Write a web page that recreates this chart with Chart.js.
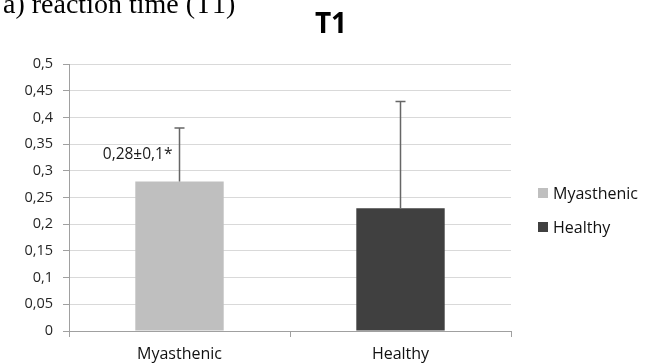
<!DOCTYPE html>
<html>
<head>
<meta charset="utf-8">
<script src="https://cdn.jsdelivr.net/npm/chart.js@4/dist/chart.umd.min.js"></script>
<style>
  html, body { margin: 0; padding: 0; background: #fff; }
  #wrap { width: 649px; height: 363px; position: relative; }
</style>
</head>
<body>
<div id="wrap"><canvas id="c" width="649" height="363"></canvas></div>
<script>
// Reaction time T1: group means with upper standard-deviation whiskers
const categories = ['Myasthenic', 'Healthy'];
const meanValues = [0.28, 0.23];
const sdValues = [0.10, 0.20];
const significant = [true, false];
const barColors = ['#bfbfbf', '#404040'];
const yTickValues = [0, 0.05, 0.1, 0.15, 0.2, 0.25, 0.3, 0.35, 0.4, 0.45, 0.5];

const chartTitle = 'T1';
const panelCaption = 'a) reaction time (T1)';

const fmt = v => String(Number(v.toFixed(2))).replace('.', ',');

// Panel caption (serif) and chart title
const headingPlugin = {
  id: 'heading',
  afterDraw(chart) {
    const ctx = chart.ctx;
    ctx.save();
    ctx.fillStyle = '#000';
    ctx.textAlign = 'left';
    ctx.textBaseline = 'alphabetic';
    ctx.font = '28px "Liberation Serif", "Times New Roman", serif';
    ctx.fillText(panelCaption, 3, 12.5);
    ctx.textAlign = 'center';
    ctx.font = 'bold 28px "Open Sans", sans-serif';
    ctx.fillText(chartTitle, 331, 33);
    ctx.restore();
  }
};

// Upper whiskers and mean±SD annotation
const errorBarPlugin = {
  id: 'errorBars',
  afterDatasetsDraw(chart) {
    const ctx = chart.ctx;
    const y = chart.scales.y;
    const meta = chart.getDatasetMeta(0);
    ctx.save();
    meta.data.forEach((el, i) => {
      const top = y.getPixelForValue(meanValues[i] + sdValues[i]);
      ctx.strokeStyle = '#666666';
      ctx.lineWidth = 1.5;
      ctx.beginPath();
      ctx.moveTo(el.x, el.y);
      ctx.lineTo(el.x, top);
      ctx.moveTo(el.x - 5, top);
      ctx.lineTo(el.x + 5, top);
      ctx.stroke();
      if (significant[i]) {
        const ly = y.getPixelForValue(meanValues[i] + sdValues[i] / 2);
        ctx.fillStyle = '#1a1a1a';
        ctx.font = '15.5px "Open Sans", sans-serif';
        ctx.textAlign = 'right';
        ctx.textBaseline = 'middle';
        ctx.fillText(fmt(meanValues[i]) + '\u00b1' + fmt(sdValues[i]) + '*', el.x - 7, ly);
      }
    });
    ctx.restore();
  }
};

// Legend listing each group with its bar colour
const sideLegendPlugin = {
  id: 'sideLegend',
  afterDraw(chart) {
    const ctx = chart.ctx;
    ctx.save();
    ctx.font = '16px "Open Sans", sans-serif';
    ctx.textAlign = 'left';
    ctx.textBaseline = 'middle';
    categories.forEach((name, i) => {
      const cy = 193 + i * 34;
      ctx.fillStyle = barColors[i];
      ctx.fillRect(538, cy - 5, 10, 10);
      ctx.fillStyle = '#111111';
      ctx.fillText(name, 553, cy + 1);
    });
    ctx.restore();
  }
};

new Chart(document.getElementById('c'), {
  type: 'bar',
  data: {
    labels: categories,
    datasets: [{
      label: chartTitle,
      data: meanValues,
      backgroundColor: barColors,
      borderWidth: 0,
      categoryPercentage: 1,
      barPercentage: 0.4
    }]
  },
  options: {
    responsive: false,
    animation: false,
    devicePixelRatio: 1,
    layout: { padding: { top: 64, right: 138, bottom: 0, left: 0 } },
    plugins: {
      legend: { display: false },
      title: { display: false },
      tooltip: { enabled: false }
    },
    scales: {
      x: {
        grid: {
          offset: true,
          drawOnChartArea: false,
          tickLength: 6,
          tickColor: '#a0a0a0'
        },
        border: { display: true, color: '#a0a0a0', width: 1 },
        ticks: {
          color: '#111111',
          font: { family: 'Open Sans', size: 16 },
          padding: 8
        },
        afterFit(s) { s.height = 32; }
      },
      y: {
        min: 0,
        max: 0.5,
        afterBuildTicks(s) { s.ticks = yTickValues.map(v => ({ value: v })); },
        ticks: {
          color: '#262626',
          font: { family: 'Open Sans', size: 14.5 },
          padding: 10,
          callback: v => fmt(v)
        },
        grid: {
          color: '#d9d9d9',
          tickLength: 6,
          tickColor: '#a0a0a0'
        },
        border: { display: true, color: '#a0a0a0', width: 1 },
        afterFit(s) { s.width = 69; }
      }
    }
  },
  plugins: [headingPlugin, errorBarPlugin, sideLegendPlugin]
});
</script>
</body>
</html>
